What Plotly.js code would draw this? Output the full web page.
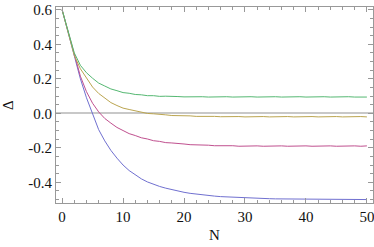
<!DOCTYPE html>
<html>
<head>
<meta charset="utf-8">
<script src="https://cdn.plot.ly/plotly-3.0.1.min.js"></script>
<style>html,body{margin:0;padding:0;background:#fff;}#chart{width:374px;height:247px;}</style>
</head>
<body>
<div id="chart"></div>
<script>
const N = [0,1,2,3,4,5,6,7,8,9,10,11,12,13,14,15,16,17,18,19,20,21,22,23,24,25,26,27,28,29,30,31,32,33,34,35,36,37,38,39,40,41,42,43,44,45,46,47,48,49,50];

const deltaBlue = [0.600,0.468,0.320,0.200,0.090,0.000,-0.095,-0.160,-0.215,-0.260,-0.300,-0.332,-0.358,-0.380,-0.398,-0.412,-0.424,-0.434,-0.443,-0.451,-0.458,-0.464,-0.469,-0.473,-0.477,-0.480,-0.483,-0.485,-0.487,-0.489,-0.490,-0.492,-0.493,-0.494,-0.495,-0.496,-0.496,-0.497,-0.497,-0.498,-0.498,-0.499,-0.499,-0.499,-0.500,-0.500,-0.500,-0.500,-0.500,-0.500,-0.500];

const deltaMagenta = [0.600,0.470,0.340,0.215,0.125,0.058,0.008,-0.030,-0.057,-0.082,-0.100,-0.118,-0.129,-0.142,-0.149,-0.159,-0.163,-0.170,-0.172,-0.177,-0.178,-0.182,-0.182,-0.186,-0.185,-0.188,-0.187,-0.190,-0.188,-0.191,-0.189,-0.191,-0.189,-0.191,-0.189,-0.191,-0.189,-0.191,-0.189,-0.191,-0.189,-0.191,-0.189,-0.191,-0.189,-0.191,-0.189,-0.191,-0.189,-0.191,-0.189];

const deltaYellow = [0.600,0.470,0.335,0.258,0.203,0.152,0.115,0.087,0.062,0.045,0.030,0.022,0.013,0.007,-0.001,-0.003,-0.008,-0.009,-0.013,-0.013,-0.016,-0.015,-0.018,-0.017,-0.019,-0.018,-0.020,-0.019,-0.021,-0.019,-0.021,-0.019,-0.021,-0.019,-0.021,-0.019,-0.021,-0.019,-0.021,-0.019,-0.021,-0.019,-0.021,-0.019,-0.021,-0.019,-0.021,-0.019,-0.021,-0.019,-0.021];

const deltaGreen = [0.600,0.472,0.350,0.278,0.235,0.203,0.175,0.158,0.141,0.131,0.120,0.116,0.109,0.107,0.102,0.102,0.098,0.099,0.096,0.097,0.095,0.096,0.094,0.096,0.094,0.096,0.094,0.096,0.094,0.096,0.094,0.096,0.094,0.096,0.094,0.096,0.094,0.096,0.094,0.096,0.094,0.096,0.094,0.096,0.094,0.096,0.094,0.096,0.094,0.096,0.094];

const seriesColors = ['#7070d0', '#c0508f', '#bba550', '#55b872'];
const xTickVals = [0,10,20,30,40,50];
const xTickText = ['0','10','20','30','40','50'];
const yTickVals = [-0.4,-0.2,0.0,0.2,0.4,0.6];
const yTickText = ['-0.4','-0.2','0.0','0.2','0.4','0.6'];
const xTitle = 'N';
const yTitle = 'Δ';

const series = [deltaBlue, deltaMagenta, deltaYellow, deltaGreen];
const traces = series.map((ys, i) => ({
  x: N, y: ys, type: 'scatter', mode: 'lines',
  line: {color: seriesColors[i], width: 1},
  hoverinfo: 'skip', showlegend: false
}));

function mkFont() { return {family: 'Liberation Serif', size: 15, color: '#111'}; }

const layout = {
  width: 374, height: 247,
  margin: {l: 56, r: 1, t: 7, b: 44},
  paper_bgcolor: '#fff', plot_bgcolor: '#fff',
  font: mkFont(),
  showlegend: false,
  xaxis: {
    range: [-1, 51],
    tickmode: 'array', tickvals: xTickVals, ticktext: xTickText,
    ticks: 'inside', ticklen: 5, tickcolor: '#999', tickwidth: 1,
    minor: {dtick: 2, ticks: 'inside', ticklen: 3, tickcolor: '#999', tickwidth: 1, showgrid: false},
    showline: true, linecolor: '#999', linewidth: 1, mirror: 'ticks',
    showgrid: false, zeroline: false,
    tickfont: mkFont(), ticklabeloverflow: 'allow'
  },
  yaxis: {
    range: [-0.52, 0.616],
    tickmode: 'array', tickvals: yTickVals, ticktext: yTickText,
    ticks: 'inside', ticklen: 5, tickcolor: '#999', tickwidth: 1,
    minor: {dtick: 0.05, tick0: 0, ticks: 'inside', ticklen: 3, tickcolor: '#999', tickwidth: 1, showgrid: false},
    showline: true, linecolor: '#999', linewidth: 1, mirror: 'ticks',
    showgrid: false, zeroline: true, zerolinecolor: '#c8c8c8', zerolinewidth: 2,
    tickfont: mkFont(), ticklabeloverflow: 'allow'
  },
  annotations: [
    {text: xTitle, xref: 'paper', yref: 'paper', x: 0.5, y: 0, yshift: -32,
     xanchor: 'center', yanchor: 'middle', showarrow: false, font: mkFont()},
    {text: yTitle, xref: 'paper', yref: 'paper', x: 0, y: 0.5, xshift: -48,
     xanchor: 'center', yanchor: 'middle', showarrow: false, textangle: -90, font: mkFont()}
  ]
};
Plotly.newPlot('chart', traces, layout, {staticPlot: true, displayModeBar: false});
</script>
</body>
</html>
